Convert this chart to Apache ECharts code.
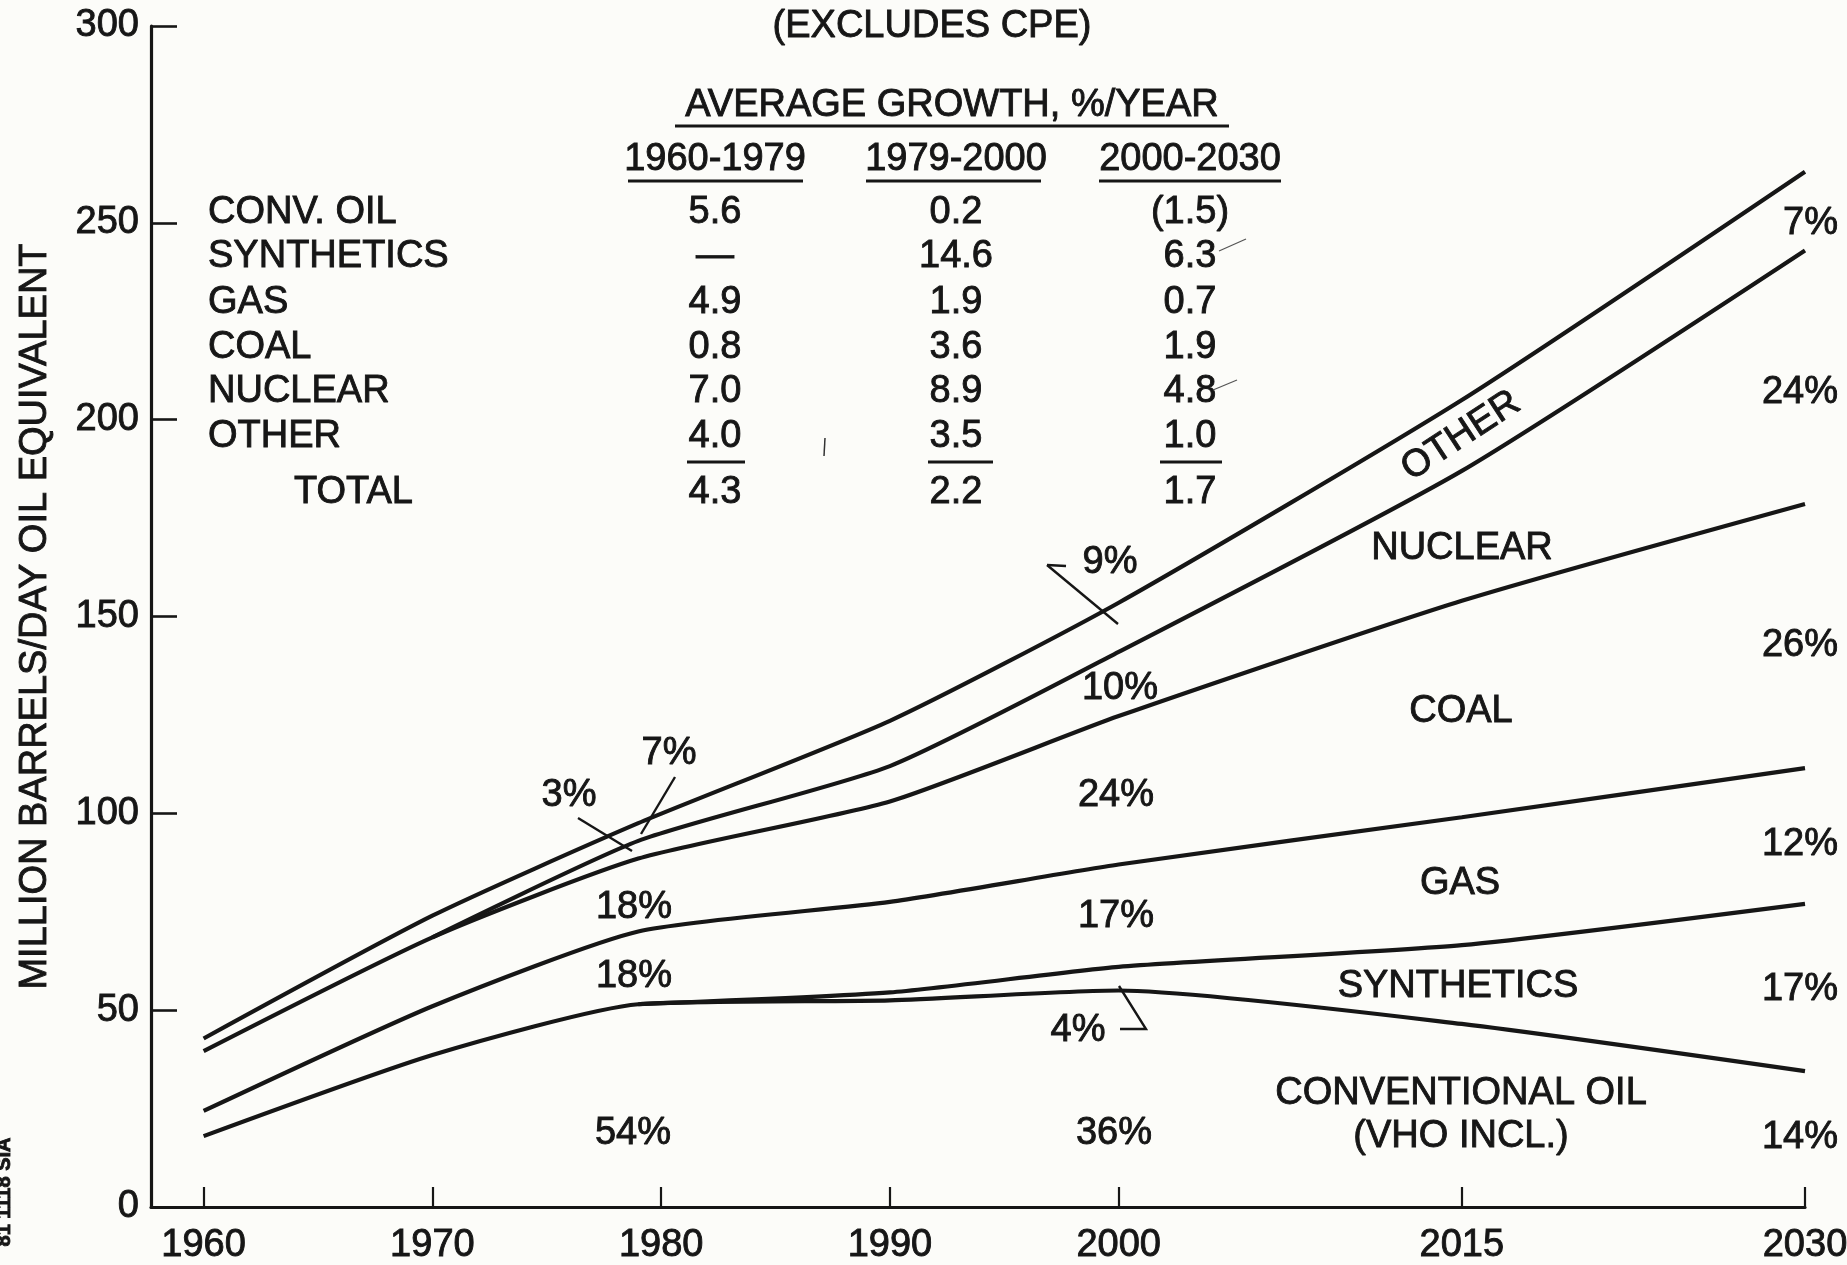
<!DOCTYPE html>
<html>
<head>
<meta charset="utf-8">
<script src="https://cdn.jsdelivr.net/npm/echarts@6/dist/echarts.min.js"></script>
<style>
html,body{margin:0;padding:0;background:#fcfcf9;}
#chart{width:1847px;height:1265px;}
</style>
</head>
<body>
<div id="chart"></div>
<script>
// ---- data (cumulative line tops, million barrels/day oil equivalent) ----
var years      = [1960, 1970, 1979, 1990, 2000, 2015, 2030];
var convOil    = [18.0, 38.6, 51.5, 52.5, 55.0, 46.5, 34.5];
var synthetics = [null, null, 51.5, 54.5, 61.0, 66.5, 77.0];
var gas        = [24.4, 51.0, 70.0, 77.5, 87.0, 99.0, 111.5];
var coal       = [39.6, 68.5, 88.5, 103.0, 124.7, 154.0, 178.6];
var nuclear    = [null, 68.5, 93.0, 112.0, 141.0, 187.0, 243.0];
var total      = [42.8, 74.0, 97.5, 123.5, 153.5, 205.0, 263.0];

var xTickYears = [1960, 1970, 1980, 1990, 2000, 2015, 2030];

// growth table
var tableRows   = ['CONV. OIL', 'SYNTHETICS', 'GAS', 'COAL', 'NUCLEAR', 'OTHER'];
var tableHeads  = ['1960-1979', '1979-2000', '2000-2030'];
var col1960     = ['5.6', '\u2014', '4.9', '0.8', '7.0', '4.0'];
var col1979     = ['0.2', '14.6', '1.9', '3.6', '8.9', '3.5'];
var col2000     = ['(1.5)', '6.3', '0.7', '1.9', '4.8', '1.0'];
var totalRow    = ['4.3', '2.2', '1.7'];

// share labels
var share1979 = ['3%', '7%', '18%', '18%', '54%'];
var share2000 = ['9%', '10%', '24%', '17%', '4%', '36%'];
var share2030 = ['7%', '24%', '26%', '12%', '17%', '14%'];
var bandNames = ['OTHER', 'NUCLEAR', 'COAL', 'GAS', 'SYNTHETICS', 'CONVENTIONAL OIL', '(VHO INCL.)'];

function pairs(arr){
  var out = [];
  for (var i = 0; i < years.length; i++) if (arr[i] != null) out.push([years[i], arr[i]]);
  return out;
}

var FONT = '"Liberation Sans", Arial, Helvetica, sans-serif';
var INK = '#161616';
var FS = 38;
var TBW = 0.9;

function txt(s, x, y, opt){
  opt = opt || {};
  return {
    type: 'text', x: x, y: y, rotation: opt.rotation || 0, z: 10,
    style: {
      text: s, fill: INK, fontFamily: FONT, fontSize: opt.fontSize || FS,
      fontWeight: opt.fontWeight || 'normal',
      align: opt.align || 'center', verticalAlign: 'middle',
      stroke: INK, lineWidth: TBW
    }
  };
}
function ln(x1, y1, x2, y2, w, c){
  return { type: 'line', z: 10, shape: {x1:x1, y1:y1, x2:x2, y2:y2},
           style: {stroke: c || INK, lineWidth: w || 2.5} };
}
function pl(points, w){
  return { type: 'polyline', z: 10, shape: {points: points},
           style: {stroke: INK, lineWidth: w || 2.5, fill: null} };
}

var graphics = [];
// header texts
graphics.push(txt('(EXCLUDES CPE)', 932, 27));
graphics.push(txt('AVERAGE GROWTH, %/YEAR', 952, 106));
graphics.push(ln(675, 126, 1229, 126, 2.8));
var colX = [715, 956, 1190];
var headUL = [[628, 803], [866, 1041], [1099, 1281]];
for (var h = 0; h < 3; h++){
  graphics.push(txt(tableHeads[h], colX[h], 160));
  graphics.push(ln(headUL[h][0], 181, headUL[h][1], 181, 2.8));
}
var rowY = [213, 257, 303, 348, 392, 437];
var cols = [col1960, col1979, col2000];
for (var r = 0; r < tableRows.length; r++){
  graphics.push(txt(tableRows[r], 208, rowY[r], {align: 'left'}));
  for (var c = 0; c < 3; c++) graphics.push(txt(cols[c][r], colX[c], rowY[r]));
}
var sumUL = [[687, 745], [928, 993], [1160, 1222]];
for (var c2 = 0; c2 < 3; c2++){
  graphics.push(ln(sumUL[c2][0], 462, sumUL[c2][1], 462, 2.8));
  graphics.push(txt(totalRow[c2], colX[c2], 493));
}
graphics.push(txt('TOTAL', 294, 493, {align: 'left'}));
// stray pen marks
graphics.push(ln(1219, 251, 1246, 239, 1.2, '#555'));
graphics.push(ln(1213, 390, 1237, 380, 1.2, '#555'));
graphics.push(ln(825, 438, 824, 456, 1.5, '#333'));
// scan reference code at the left edge
graphics.push(txt('81 1118 SIA', 4, 1192, {rotation: Math.PI / 2, fontSize: 20, fontWeight: 'bold'}));

// 1979 shares
graphics.push(txt(share1979[0], 569, 796));
graphics.push(txt(share1979[1], 669, 754));
graphics.push(txt(share1979[2], 634, 908));
graphics.push(txt(share1979[3], 634, 977));
graphics.push(txt(share1979[4], 633, 1134));
graphics.push(ln(578, 818, 632, 851, 2.4));
graphics.push(ln(675, 777, 641, 834, 2.4));
// 2000 shares
graphics.push(txt(share2000[0], 1110, 563));
graphics.push(txt(share2000[1], 1120, 689));
graphics.push(txt(share2000[2], 1116, 796));
graphics.push(txt(share2000[3], 1116, 917));
graphics.push(txt(share2000[4], 1078, 1031));
graphics.push(txt(share2000[5], 1114, 1134));
graphics.push(ln(1047, 565, 1066, 566, 2.4));
graphics.push(ln(1047, 565, 1118, 624, 2.4));
graphics.push(pl([[1120, 1029], [1146, 1029], [1119, 986]], 2.4));
// 2030 shares
var right2030Y = [224, 393, 646, 845, 990, 1138];
for (var k = 0; k < share2030.length; k++) graphics.push(txt(share2030[k], 1838, right2030Y[k], {align: 'right'}));
// band names
graphics.push(txt(bandNames[0], 1461, 436, {rotation: 0.58}));
graphics.push(txt(bandNames[1], 1462, 549));
graphics.push(txt(bandNames[2], 1461, 712));
graphics.push(txt(bandNames[3], 1460, 884));
graphics.push(txt(bandNames[4], 1458, 987));
graphics.push(txt(bandNames[5], 1461, 1094));
graphics.push(txt(bandNames[6], 1461, 1137));

function lineSeries(name, arr){
  return {
    name: name, type: 'line', data: pairs(arr), showSymbol: false, smooth: 0.2,
    lineStyle: {color: INK, width: 4.2}, silent: true, animation: false
  };
}

var labelStyle = {color: INK, fontFamily: FONT, fontSize: FS, textBorderColor: INK, textBorderWidth: TBW};

var chart = echarts.init(document.getElementById('chart'), null, {renderer: 'canvas'});
chart.setOption({
  backgroundColor: '#fcfcf9',
  animation: false,
  grid: {left: 151, right: 42, top: 26, bottom: 58, containLabel: false, outerBoundsMode: 'none'},
  xAxis: {
    type: 'value', min: 1957.7, max: 2030,
    axisLine: {show: true, onZero: false, lineStyle: {color: INK, width: 3.2}},
    axisTick: {show: true, inside: true, length: 20, lineStyle: {color: INK, width: 2.2}, customValues: xTickYears},
    axisLabel: Object.assign({margin: 20, customValues: xTickYears,
      formatter: function(v){ return String(Math.round(v)); }}, labelStyle),
    splitLine: {show: false}
  },
  yAxis: {
    type: 'value', min: 0, max: 300, interval: 50,
    name: 'MILLION BARRELS/DAY OIL EQUIVALENT', nameLocation: 'middle', nameRotate: 90, nameGap: 96,
    nameTextStyle: labelStyle,
    axisLine: {show: true, lineStyle: {color: INK, width: 3.2}},
    axisTick: {show: true, inside: true, length: 26, lineStyle: {color: INK, width: 2.6}},
    axisLabel: Object.assign({margin: 12}, labelStyle),
    splitLine: {show: false}
  },
  series: [
    lineSeries('Conventional oil', convOil),
    lineSeries('Synthetics', synthetics),
    lineSeries('Gas', gas),
    lineSeries('Coal', coal),
    lineSeries('Nuclear', nuclear),
    lineSeries('Total', total)
  ],
  graphic: graphics
});
</script>
</body>
</html>
